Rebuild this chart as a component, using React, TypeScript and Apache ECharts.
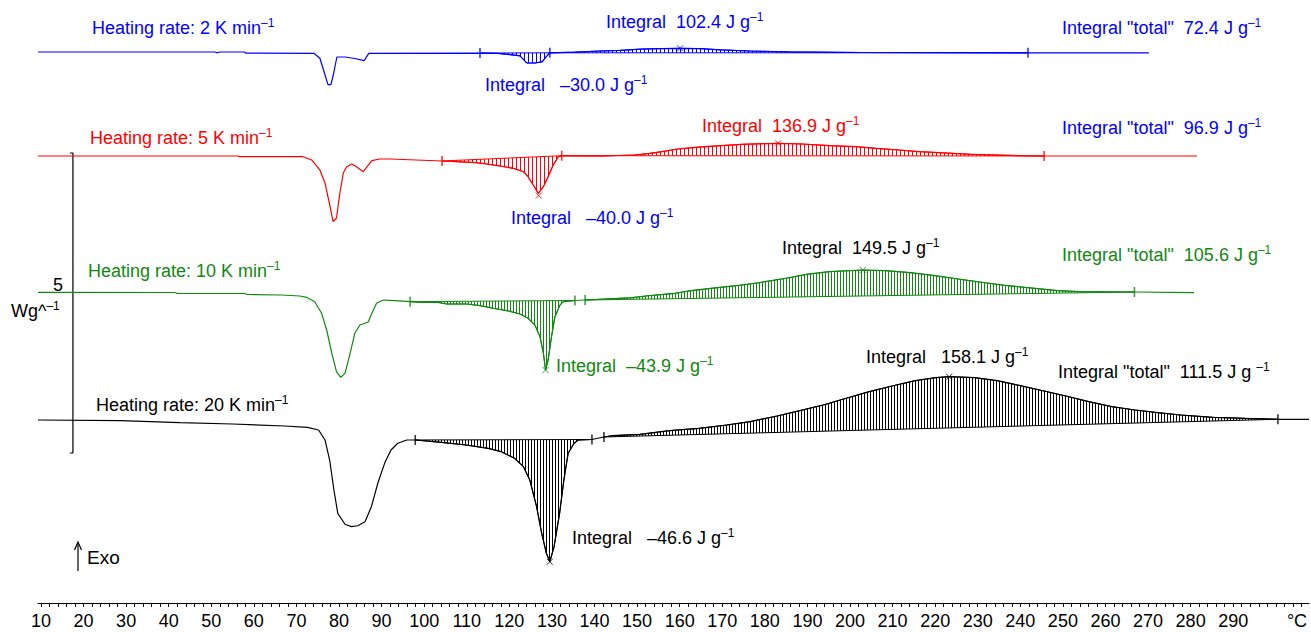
import React, { useEffect, useRef } from 'react';
import * as echarts from 'echarts';

const FONT = "'Liberation Sans', Arial, Helvetica, sans-serif";

// x: temperature in °C, y: heat flow in W g^-1 (curves offset vertically)
const BLUE_CURVE = [[9.3,9.183],[50.9,9.183],[51.3,9.17],[52.0,9.183],[57.7,9.183],[58.1,9.165],[74.1,9.162],[75.5,9.08],[76.5,8.85],[77.4,8.64],[78.1,8.64],[78.8,8.85],[79.5,9.1],[81.4,9.1],[83.7,9.075],[85.9,9.04],[87.0,9.16],[113.1,9.165],[117.3,9.16],[120.1,9.14],[122.5,9.12],[124.1,9.0],[126.0,9.0],[127.7,9.02],[128.6,9.1],[129.5,9.17],[135.4,9.18],[141.3,9.2],[146.0,9.21],[150.7,9.23],[155.4,9.24],[160.1,9.245],[164.8,9.24],[169.5,9.22],[176.5,9.2],[185.9,9.185],[202.8,9.175],[241.8,9.17],[270.2,9.17]];

const RED_CURVE = [[9.3,7.45],[56.3,7.45],[56.5,7.438],[71.5,7.438],[73.6,7.383],[75.5,7.217],[76.7,7.0],[77.9,6.605],[78.6,6.355],[79.4,6.417],[80.2,6.833],[81.0,7.167],[81.8,7.272],[83.0,7.317],[84.1,7.272],[85.7,7.188],[86.6,7.272],[87.7,7.372],[89.6,7.4],[92.0,7.4],[104.2,7.367],[112.3,7.338],[114.7,7.317],[117.8,7.283],[120.9,7.245],[123.3,7.188],[124.4,7.105],[125.6,6.967],[126.8,6.828],[128.0,6.938],[129.1,7.105],[130.3,7.3],[131.5,7.438],[132.3,7.455],[141.8,7.45],[149.5,7.467],[153.0,7.495],[155.8,7.522],[159.6,7.567],[162.9,7.588],[166.1,7.605],[169.7,7.622],[174.6,7.645],[183.1,7.662],[188.7,7.65],[195.3,7.622],[201.3,7.605],[206.1,7.578],[211.5,7.55],[216.2,7.522],[221.1,7.505],[228.4,7.478],[240.2,7.455],[245.6,7.45],[281.5,7.45]];

const GREEN_CURVE = [[9.3,5.178],[41.5,5.175],[41.9,5.162],[57.9,5.158],[58.4,5.142],[66.4,5.133],[70.8,5.117],[72.4,5.095],[74.3,5.022],[75.9,4.828],[77.1,4.55],[78.3,4.162],[79.4,3.855],[80.4,3.762],[81.4,3.828],[82.6,4.162],[83.7,4.495],[84.9,4.633],[86.1,4.662],[86.9,4.688],[87.7,4.828],[88.8,4.995],[90.4,5.05],[93.1,5.038],[96.7,5.022],[99.7,5.012],[103.0,5.012],[105.3,4.983],[109.1,4.983],[110.0,4.983],[113.1,4.955],[116.2,4.912],[119.4,4.872],[122.5,4.817],[124.4,4.745],[126.0,4.633],[127.2,4.438],[128.0,4.162],[128.5,3.883],[129.1,4.05],[129.9,4.438],[130.7,4.772],[131.9,4.967],[132.7,5.022],[135.4,5.042],[137.8,5.05],[141.4,5.062],[148.8,5.088],[152.1,5.117],[158.9,5.162],[162.7,5.205],[167.4,5.245],[173.2,5.288],[178.6,5.338],[185.0,5.412],[189.8,5.478],[195.1,5.522],[203.0,5.55],[208.4,5.538],[214.2,5.505],[220.0,5.455],[225.4,5.4],[231.7,5.338],[237.1,5.288],[243.4,5.245],[248.8,5.205],[254.0,5.188],[264.7,5.183],[266.8,5.183],[280.8,5.172]];

const BLACK_CURVE = [[9.3,3.05],[28.6,3.038],[42.6,3.005],[55.0,2.983],[67.3,2.95],[72.6,2.928],[75.2,2.883],[76.7,2.717],[77.8,2.383],[78.8,1.883],[79.7,1.495],[81.4,1.312],[82.9,1.272],[84.4,1.288],[86.1,1.355],[87.6,1.605],[89.1,1.995],[90.7,2.328],[92.2,2.55],[93.8,2.662],[95.9,2.717],[97.9,2.717],[100.5,2.7],[104.6,2.672],[109.8,2.633],[115.0,2.578],[118.1,2.522],[121.2,2.412],[123.3,2.272],[124.8,2.05],[126.4,1.605],[127.6,1.162],[128.7,0.828],[129.5,0.688],[130.5,0.938],[131.8,1.495],[132.8,2.05],[133.8,2.495],[135.2,2.662],[136.2,2.717],[139.4,2.725],[142.2,2.767],[144.1,2.788],[150.7,2.812],[157.6,2.872],[164.6,2.912],[171.1,2.967],[176.5,3.022],[182.9,3.117],[188.2,3.205],[193.7,3.3],[199.1,3.412],[204.5,3.522],[209.9,3.617],[215.3,3.705],[220.1,3.755],[223.3,3.772],[229.3,3.755],[234.6,3.705],[240.0,3.622],[245.3,3.538],[250.7,3.45],[256.1,3.355],[261.5,3.272],[266.9,3.217],[272.3,3.172],[277.7,3.133],[285.2,3.095],[292.8,3.078],[300.5,3.062],[307.8,3.062]];

// integration limits (brackets) for each curve
const BLUE_LIMITS = [[113.1,9.165],[129.5,9.17],[241.8,9.17]];
const RED_LIMITS = [[104.2,7.367],[132.3,7.455],[245.6,7.45]];
const GREEN_LIMITS = [[96.7,5.022],[135.4,5.042],[137.8,5.05],[266.8,5.183]];
const BLACK_LIMITS = [[97.9,2.717],[139.4,2.725],[142.2,2.767],[300.5,3.062]];

// pairs of limit indices that bound each integral
const BLUE_INTEGRALS = [[0,1],[1,2]];
const RED_INTEGRALS = [[0,1],[1,2]];
const GREEN_INTEGRALS = [[0,1],[2,3]];
const BLACK_INTEGRALS = [[0,1],[2,3]];

// peak markers
const BLUE_PEAKS = [[160.1,9.245]];
const RED_PEAKS = [[126.9,6.79],[183.1,7.662]];
const GREEN_PEAKS = [[128.5,3.883],[203.0,5.55]];
const BLACK_PEAKS = [[129.5,0.688],[223.3,3.772]];

// scale bar: 5 W g^-1
const SCALE_BAR = [[16.8,7.5],[17.5,7.5],[17.5,2.5],[16.8,2.5]];

const X_LABELS = [10,20,30,40,50,60,70,80,90,100,110,120,130,140,150,160,170,180,190,200,210,220,230,240,250,260,270,280,290];
const X_TICKS = Array.from({ length: 149 }, (_, i) => 10 + i * 2);

const COLORS = ['#0000ff', '#ff0000', '#118811', '#000000'];
const HATCH_STEP = [4, 4, 3, 3];
const CURVES = [BLUE_CURVE, RED_CURVE, GREEN_CURVE, BLACK_CURVE];
const LIMITS = [BLUE_LIMITS, RED_LIMITS, GREEN_LIMITS, BLACK_LIMITS];
const INTEGRALS = [BLUE_INTEGRALS, RED_INTEGRALS, GREEN_INTEGRALS, BLACK_INTEGRALS];
const PEAKS = [BLUE_PEAKS, RED_PEAKS, GREEN_PEAKS, BLACK_PEAKS];
const NAMES = ['2 K/min', '5 K/min', '10 K/min', '20 K/min'];

const ANNOTATIONS = [
  { text: 'Heating rate: 2 K min', x: 92, y: 28, c: 0 },
  { text: 'Integral  102.4 J g', x: 606, y: 22, c: 0 },
  { text: 'Integral "total"  72.4 J g', x: 1062, y: 28, c: 0 },
  { text: 'Integral   \u201330.0 J g', x: 485, y: 85, c: 0 },
  { text: 'Heating rate: 5 K min', x: 90, y: 138, c: 1 },
  { text: 'Integral  136.9 J g', x: 702, y: 126, c: 1 },
  { text: 'Integral "total"  96.9 J g', x: 1062, y: 128, c: 0 },
  { text: 'Integral   \u201340.0 J g', x: 511, y: 218, c: 0 },
  { text: 'Heating rate: 10 K min', x: 88, y: 271, c: 2 },
  { text: 'Integral  149.5 J g', x: 782, y: 248, c: 3 },
  { text: 'Integral "total"  105.6 J g', x: 1062, y: 255, c: 2 },
  { text: 'Integral  \u201343.9 J g', x: 556, y: 366, c: 2 },
  { text: 'Heating rate: 20 K min', x: 96, y: 405, c: 3 },
  { text: 'Integral   158.1 J g', x: 866, y: 357, c: 3 },
  { text: 'Integral "total"  111.5 J g ', x: 1058, y: 372, c: 3 },
  { text: 'Integral   \u201346.6 J g', x: 572, y: 538, c: 3 },
];

function makePattern(color: string, step: number) {
  const c = document.createElement('canvas');
  c.width = step;
  c.height = 4;
  const g = c.getContext('2d')!;
  g.fillStyle = color;
  g.fillRect(0, 0, 1, 4);
  return { image: c.toDataURL(), repeat: 'repeat', imageWidth: step, imageHeight: 4 };
}

function supText(text: string, color: string, x: number, y: number) {
  return {
    type: 'text',
    x,
    y,
    silent: true,
    style: {
      text: '{m|' + text + '}{s|\u20131}',
      align: 'left',
      verticalAlign: 'middle',
      textAlign: 'left',
      textVerticalAlign: 'middle',
      fill: color,
      rich: {
        m: { fontSize: 18, lineHeight: 22, fontFamily: FONT, fill: color },
        s: { fontSize: 12, lineHeight: 12, verticalAlign: 'top', fontFamily: FONT, fill: color },
      },
    },
  };
}

export default function App() {
  const ref = useRef<HTMLDivElement>(null);

  useEffect(() => {
    const chart = echarts.init(ref.current!, null, { renderer: 'svg' });
    const patterns = COLORS.map((c, i) => makePattern(c, HATCH_STEP[i]));

    const hatchItems: number[][] = [];
    INTEGRALS.forEach((pairs, ci) => {
      pairs.forEach(([a, b]) => {
        const p0 = LIMITS[ci][a];
        const p1 = LIMITS[ci][b];
        hatchItems.push([p0[0], p0[1], p1[0], p1[1], ci]);
      });
    });

    const series: any[] = [];
    series.push({
      type: 'custom',
      name: 'integrals',
      coordinateSystem: 'cartesian2d',
      data: hatchItems,
      encode: { x: 0, y: 1 },
      silent: true,
      z: 1,
      renderItem: (params: any, api: any) => {
        const t0 = api.value(0);
        const b0 = api.value(1);
        const t1 = api.value(2);
        const b1 = api.value(3);
        const ci = api.value(4);
        const pts = CURVES[ci]
          .filter((p) => p[0] >= t0 && p[0] <= t1)
          .map((p) => api.coord(p));
        pts.push(api.coord([t1, b1]));
        pts.push(api.coord([t0, b0]));
        return {
          type: 'polygon',
          shape: { points: pts },
          style: { fill: patterns[ci], stroke: COLORS[ci], lineWidth: 1 },
        };
      },
    });

    CURVES.forEach((curve, ci) => {
      series.push({
        type: 'line',
        name: NAMES[ci],
        data: curve,
        showSymbol: false,
        symbol: 'none',
        clip: false,
        lineStyle: { color: COLORS[ci], width: 1.2 },
        z: 3,
      });
      series.push({
        type: 'scatter',
        name: NAMES[ci] + ' limits',
        data: LIMITS[ci],
        symbol: 'rect',
        symbolSize: [1.6, 10],
        itemStyle: { color: COLORS[ci] },
        silent: true,
        z: 4,
      });
      series.push({
        type: 'scatter',
        name: NAMES[ci] + ' peaks',
        data: PEAKS[ci],
        symbol: 'path://M0,0L10,10M10,0L0,10',
        symbolSize: 6,
        itemStyle: { color: 'none', borderColor: COLORS[ci], borderWidth: 1 },
        silent: true,
        z: 4,
      });
    });

    series.push({
      type: 'line',
      name: 'scale',
      data: SCALE_BAR,
      showSymbol: false,
      symbol: 'none',
      clip: false,
      lineStyle: { color: '#000', width: 1.2 },
      z: 2,
    });

    const graphics: any[] = ANNOTATIONS.map((a) => supText(a.text, COLORS[a.c], a.x, a.y));
    graphics.push({
      type: 'text', x: 58, y: 285, silent: true,
      style: { text: '5', fontSize: 18, fontFamily: FONT, fill: '#000', align: 'center', verticalAlign: 'middle', textAlign: 'center', textVerticalAlign: 'middle' },
    });
    graphics.push({
      type: 'text', x: 11, y: 311, silent: true,
      style: {
        text: '{m|Wg^}{s|\u20131}', align: 'left', verticalAlign: 'middle', textAlign: 'left', textVerticalAlign: 'middle', fill: '#000',
        rich: {
          m: { fontSize: 18, lineHeight: 22, fontFamily: FONT, fill: '#000' },
          s: { fontSize: 12, lineHeight: 12, verticalAlign: 'top', fontFamily: FONT, fill: '#000' },
        },
      },
    });
    graphics.push({
      type: 'line', silent: true,
      shape: { x1: 78, y1: 571, x2: 78, y2: 543 },
      style: { stroke: '#000', lineWidth: 1.2 },
    });
    graphics.push({
      type: 'polyline', silent: true,
      shape: { points: [[74.5, 550], [78, 542], [81.5, 550]] },
      style: { stroke: '#000', lineWidth: 1.2, fill: 'none' },
    });
    graphics.push({
      type: 'text', x: 87, y: 557, silent: true,
      style: { text: 'Exo', fontSize: 19, fontFamily: FONT, fill: '#000', align: 'left', verticalAlign: 'middle', textAlign: 'left', textVerticalAlign: 'middle' },
    });
    graphics.push({
      type: 'text', x: 1297, y: 621, silent: true,
      style: { text: '\u00B0C', fontSize: 18, fontFamily: FONT, fill: '#000', align: 'center', verticalAlign: 'middle', textAlign: 'center', textVerticalAlign: 'middle' },
    });

    chart.setOption({
      animation: false,
      backgroundColor: '#ffffff',
      grid: { left: 38, right: 2, top: 3, bottom: 29, containLabel: false, outerBoundsMode: 'none' },
      xAxis: {
        type: 'value',
        min: 9.3,
        max: 307.8,
        axisLine: { show: true, onZero: false, lineStyle: { color: '#000', width: 1.2 } },
        axisTick: { show: true, customValues: X_TICKS, length: 4, lineStyle: { color: '#000', width: 1 } },
        minorTick: { show: false },
        splitLine: { show: false },
        axisLabel: { customValues: X_LABELS, fontSize: 18, fontFamily: FONT, color: '#000', margin: 9 },
      },
      yAxis: { type: 'value', min: 0, max: 10, show: false, splitLine: { show: false } },
      series,
      graphic: graphics,
    });

    return () => chart.dispose();
  }, []);

  return (
    <div
      ref={ref}
      style={{ position: 'fixed', left: 0, top: 0, width: 1311, height: 632, background: '#fff' }}
    />
  );
}
